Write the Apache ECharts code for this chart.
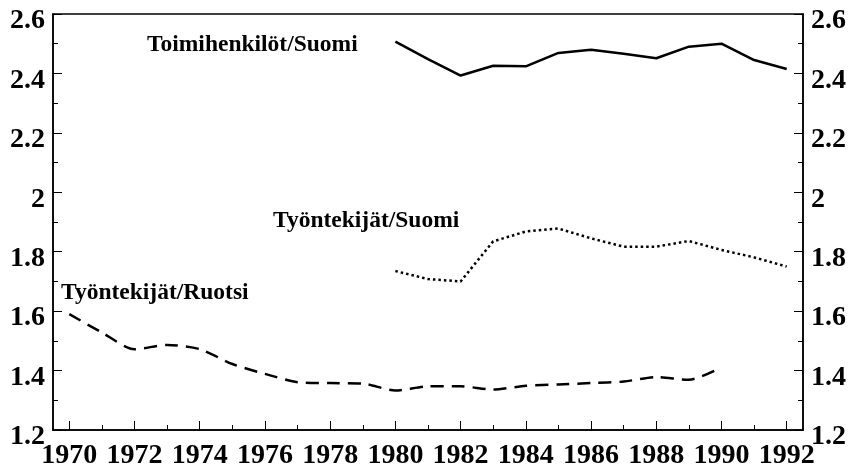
<!DOCTYPE html>
<html>
<head>
<meta charset="utf-8">
<script src="https://cdn.jsdelivr.net/npm/echarts@6/dist/echarts.min.js"></script>
<style>
html,body{margin:0;padding:0;background:#fff;}
#chart{width:852px;height:471px;}
</style>
</head>
<body>
<div id="chart"></div>
<script>
// Years (categories)
const years = ["1970","1971","1972","1973","1974","1975","1976","1977","1978","1979","1980","1981","1982","1983","1984","1985","1986","1987","1988","1989","1990","1991","1992"];
// Toimihenkilöt/Suomi (1980-1992)
const toimihenkilotSuomi = [null,null,null,null,null,null,null,null,null,null,2.507,2.448,2.393,2.426,2.424,2.469,2.480,2.466,2.451,2.490,2.500,2.445,2.415];
// Työntekijät/Suomi (1980-1992)
const tyontekijatSuomi = [null,null,null,null,null,null,null,null,null,null,1.735,1.708,1.700,1.835,1.868,1.878,1.845,1.817,1.817,1.836,1.806,1.781,1.750];
// Työntekijät/Ruotsi (1970-1990)
const tyontekijatRuotsi = [1.590,1.528,1.472,1.486,1.472,1.422,1.389,1.361,1.358,1.356,1.333,1.347,1.347,1.336,1.349,1.353,1.358,1.363,1.378,1.369,1.411,null,null];
// Series labels
const seriesNames = ["Toimihenkilöt/Suomi","Työntekijät/Suomi","Työntekijät/Ruotsi"];
// Y axis range
const yMin = 1.2, yMax = 2.6, yStep = 0.2;

const FONT = '"Liberation Serif","DejaVu Serif",serif';
const chart = echarts.init(document.getElementById('chart'));

function yAxis(pos){
  return {
    type:'value', position:pos, min:yMin, max:yMax, interval:yStep,
    axisLine:{show:true,lineStyle:{color:'#000',width:1.5}},
    axisTick:{show:true,inside:true,length:9,lineStyle:{color:'#000',width:1}},
    minorTick:{show:true,splitNumber:2,length:5,lineStyle:{color:'#000',width:1}},
    splitLine:{show:false},
    axisLabel:{color:'#000',fontFamily:FONT,fontWeight:'bold',fontSize:28,margin:8,
      verticalAlign:'top',lineHeight:14,
      formatter:v=>String(+v.toFixed(1))}
  };
}

const labelStyle = {fill:'#000',font:'bold 23.5px "Liberation Serif", serif'};

chart.setOption({
  animation:false,
  backgroundColor:'#fff',
  grid:{left:53,right:49,top:14,bottom:41,show:true,borderColor:'#000',borderWidth:1.5,backgroundColor:'transparent'},
  xAxis:[
    {type:'category',data:years,boundaryGap:true,position:'bottom',
     axisLine:{show:true,lineStyle:{color:'#000',width:1.5}},
     axisTick:{show:true,inside:true,length:9,alignWithLabel:true,interval:1,lineStyle:{color:'#000',width:1}},
     axisLabel:{interval:1,color:'#000',fontFamily:FONT,fontWeight:'bold',fontSize:28,margin:12},
     splitLine:{show:false}},
    {type:'category',data:years,boundaryGap:true,position:'bottom',
     axisLine:{show:false},
     axisTick:{show:true,inside:true,length:5,alignWithLabel:true,interval:0,lineStyle:{color:'#000',width:1}},
     axisLabel:{show:false},splitLine:{show:false}}
  ],
  yAxis:[yAxis('left'),yAxis('right')],
  series:[
    {name:seriesNames[0],type:'line',data:toimihenkilotSuomi,showSymbol:false,connectNulls:false,
     lineStyle:{color:'#000',width:2.5,type:'solid'}},
    {name:seriesNames[1],type:'line',data:tyontekijatSuomi,showSymbol:false,
     lineStyle:{color:'#000',width:2.5,type:[2.5,3]}},
    {name:seriesNames[2],type:'line',data:tyontekijatRuotsi,showSymbol:false,smooth:0.25,
     lineStyle:{color:'#000',width:2.5,type:[13,8]}}
  ],
  graphic:[
    {type:'text',left:147,top:33,style:Object.assign({text:seriesNames[0]},labelStyle)},
    {type:'text',left:273,top:209,style:Object.assign({text:seriesNames[1]},labelStyle)},
    {type:'text',left:61,top:281,style:Object.assign({text:seriesNames[2]},labelStyle)}
  ]
});
</script>
</body>
</html>
